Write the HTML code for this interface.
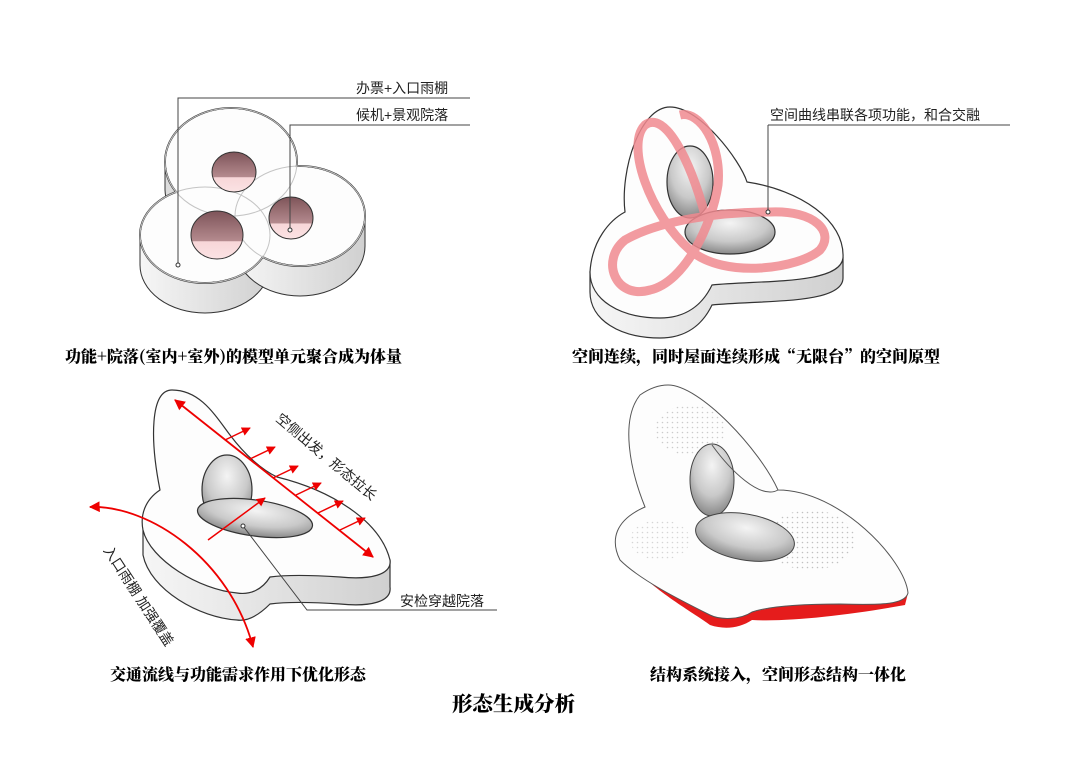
<!DOCTYPE html>
<html><head><meta charset="utf-8"><style>
body{margin:0;background:#fff;}
svg{display:block}
.cap{font-family:"Noto Serif CJK SC","Noto Sans CJK SC",serif;font-weight:900;font-size:16px;fill:#000}
.lab{font-family:"Liberation Sans","Noto Sans CJK SC",sans-serif;font-size:14px;fill:#222}
</style></head><body>
<svg width="1080" height="764" viewBox="0 0 1080 764" xmlns="http://www.w3.org/2000/svg">
<defs>
<linearGradient id="side" x1="0" x2="1"><stop offset="0" stop-color="#f6f6f6"/><stop offset="1" stop-color="#d0d0d0"/></linearGradient>
<linearGradient id="hole" x1="0" y1="0" x2="0" y2="1"><stop offset="0" stop-color="#7e5459"/><stop offset="0.62" stop-color="#b48a8e"/><stop offset="0.64" stop-color="#f7d6d8"/><stop offset="1" stop-color="#fbe3e4"/></linearGradient>
<radialGradient id="gh" cx="0.5" cy="0.3" r="0.7"><stop offset="0" stop-color="#f4f4f4"/><stop offset="0.6" stop-color="#c9c9c9"/><stop offset="1" stop-color="#888"/></radialGradient>
<pattern id="dots" width="5" height="5" patternUnits="userSpaceOnUse"><circle cx="2.5" cy="2.5" r="0.8" fill="#999"/></pattern>
<marker id="ar" viewBox="0 0 10 10" refX="9" refY="5" markerWidth="6" markerHeight="6" orient="auto-start-reverse"><path d="M0,0L10,5L0,10z" fill="#e00"/></marker>
</defs>

<!-- TOP LEFT -->
<g stroke="#333" stroke-width="1">
<path d="M165,162 L165,190 A66,54 0 0 0 200,236 L200,200 Z" fill="#dcdcdc"/>
<path d="M140,235 L140,265 A65,48 0 0 0 270,265 L270,235 Z" fill="url(#side)"/>
<path d="M235,216 L235,246 A65,50 0 0 0 365,246 L365,216 Z" fill="url(#side)"/>
</g>
<g stroke="#333" stroke-width="2" fill="#fdfdfd">
<ellipse cx="231" cy="162" rx="66" ry="54"/>
<ellipse cx="205" cy="235" rx="65" ry="48"/>
<ellipse cx="300" cy="216" rx="65" ry="50"/>
</g>
<g fill="#fdfdfd">
<ellipse cx="231" cy="162" rx="65" ry="53"/>
<ellipse cx="205" cy="235" rx="64" ry="47"/>
<ellipse cx="300" cy="216" rx="64" ry="49"/>
</g>
<g fill="none" stroke="#c4c4c4" stroke-width="1">
<ellipse cx="231" cy="162" rx="66" ry="54"/>
<ellipse cx="205" cy="235" rx="65" ry="48"/>
<ellipse cx="300" cy="216" rx="65" ry="50"/>
</g>
<g stroke="#333" stroke-width="1">
<ellipse cx="234" cy="172" rx="22" ry="20" fill="url(#hole)"/>
<ellipse cx="217" cy="235" rx="26" ry="24" fill="url(#hole)"/>
<ellipse cx="291" cy="218" rx="22" ry="21" fill="url(#hole)"/>
</g>
<g stroke="#444" stroke-width="1" fill="none">
<polyline points="178,265 178,98 470,98"/>
<polyline points="290,230 290,125 470,125"/>
</g>
<circle cx="178" cy="265" r="2" fill="#fff" stroke="#333"/>
<circle cx="290" cy="230" r="2" fill="#fff" stroke="#333"/>
<text class="lab" x="356" y="93">办票+入口雨棚</text>
<text class="lab" x="356" y="120">候机+景观院落</text>
<text class="cap" x="65" y="362">功能+院落(室内+室外)的模型单元聚合成为体量</text>

<!-- TOP RIGHT -->
<g stroke="#333" stroke-width="1.2">
<path d="M590,272 L590,292 C590,320 620,338 660,338 C680,338 700,330 712,305 C760,300 843,305 843,278 L843,258 Z" fill="url(#side)"/>
<path d="M670,107 C700,107 740,160 747,182 C800,190 845,220 843,258 C840,285 760,280 712,285 C700,310 680,318 660,318 C620,318 590,300 590,272 C592,240 610,220 625,212 C620,170 640,107 670,107 Z" fill="#fdfdfd"/>
<ellipse cx="690" cy="182" rx="23" ry="36" fill="url(#gh)"/>
<ellipse cx="730" cy="232" rx="45" ry="22" fill="url(#gh)"/>
</g>
<path d="M705,215 C690,160 665,110 645,125 C625,145 650,215 690,250 C725,280 800,268 820,250 C835,232 815,210 770,212 C720,212 660,220 625,240 C600,260 615,300 650,290 C685,282 712,225 718,185 C722,145 700,110 680,115" fill="none" stroke="#f08a8f" stroke-width="9" opacity="0.85"/>
<line x1="768" y1="125" x2="768" y2="212" stroke="#444"/>
<line x1="768" y1="125" x2="1010" y2="125" stroke="#444"/>
<circle cx="768" cy="212" r="2" fill="#fff" stroke="#333"/>
<text class="lab" x="770" y="120">空间曲线串联各项功能，和合交融</text>
<text class="cap" x="572" y="362">空间连续，同时屋面连续形成“无限台”的空间原型</text>

<!-- BOTTOM LEFT -->
<g stroke="#333" stroke-width="1.2">
<path d="M143,530 L143,555 C150,590 200,618 237,620 C250,622 262,612 270,604 C285,602 310,602 340,604 C370,607 392,602 390,587 L390,560 Z" fill="url(#side)"/>
<path d="M160,490 C150,440 150,390 172,390 C200,390 215,415 230,435 C245,455 262,470 277,477 C330,490 380,520 390,560 C392,575 370,580 340,577 C310,575 285,575 270,577 C262,590 250,595 237,593 C200,590 150,560 143,530 C140,515 145,500 160,490 Z" fill="#fdfdfd"/>
<ellipse cx="227" cy="490" rx="25" ry="35" fill="url(#gh)"/>
<ellipse cx="255" cy="518" rx="58" ry="18" fill="url(#gh)" transform="rotate(8 255 518)"/>
</g>
<line x1="175" y1="400" x2="373" y2="557" stroke="#e00" stroke-width="1.8" marker-start="url(#ar)" marker-end="url(#ar)"/>
<g stroke="#e00" stroke-width="1.5" marker-end="url(#ar)">
<line x1="225" y1="440" x2="250" y2="428"/><line x1="250" y1="459" x2="275" y2="447"/>
<line x1="273" y1="478" x2="298" y2="466"/><line x1="296" y1="495" x2="321" y2="483"/>
<line x1="318" y1="513" x2="343" y2="501"/><line x1="340" y1="530" x2="365" y2="518"/>
<line x1="208" y1="540" x2="265" y2="498"/>
</g>
<path d="M90,507 C150,505 230,560 253,647" fill="none" stroke="#e00" stroke-width="1.8" marker-start="url(#ar)" marker-end="url(#ar)"/>
<text class="lab" transform="translate(275,420) rotate(40)">空侧出发，形态拉长</text>
<text class="lab" transform="translate(103,550) rotate(57)">入口雨棚 加强覆盖</text>
<polyline points="243,526 307,610 497,610" fill="none" stroke="#444"/>
<circle cx="243" cy="526" r="2" fill="#fff" stroke="#333"/>
<text class="lab" x="400" y="606">安检穿越院落</text>
<text class="cap" x="110" y="680">交通流线与功能需求作用下优化形态</text>

<!-- BOTTOM RIGHT -->
<path d="M618,540 C625,575 690,610 710,625 C725,630 740,628 752,620 C790,622 850,615 905,605 L908,593 C880,598 800,600 752,612 C730,615 720,618 710,615 C680,598 640,575 618,540 Z" fill="#e51c1c"/>
<g stroke="#555" stroke-width="1">
<path d="M668,385 C700,385 760,450 778,490 C840,490 905,560 908,593 C905,605 880,605 840,604 C800,604 770,606 752,612 C740,620 720,620 710,615 C680,600 640,580 620,560 C610,540 615,520 645,507 C630,470 620,420 640,395 C650,388 660,385 668,385Z" fill="#fdfdfd"/>
</g>
<ellipse cx="690" cy="430" rx="35" ry="25" fill="url(#dots)" opacity="0.5"/>
<ellipse cx="810" cy="540" rx="45" ry="30" fill="url(#dots)" opacity="0.6"/>
<ellipse cx="660" cy="540" rx="30" ry="20" fill="url(#dots)" opacity="0.4"/>
<g stroke="#444" stroke-width="1">
<ellipse cx="712" cy="480" rx="22" ry="36" fill="url(#gh)"/>
<ellipse cx="745" cy="537" rx="50" ry="23" fill="url(#gh)" transform="rotate(10 745 537)"/>
</g>
<path d="M712,445 C730,470 760,500 778,490" fill="none" stroke="#555"/>
<text class="cap" x="650" y="680">结构系统接入，空间形态结构一体化</text>

<text x="452" y="711" style="font-family:'Noto Serif CJK SC',serif;font-weight:900;font-size:20.5px">形态生成分析</text>
</svg>
</body></html>
